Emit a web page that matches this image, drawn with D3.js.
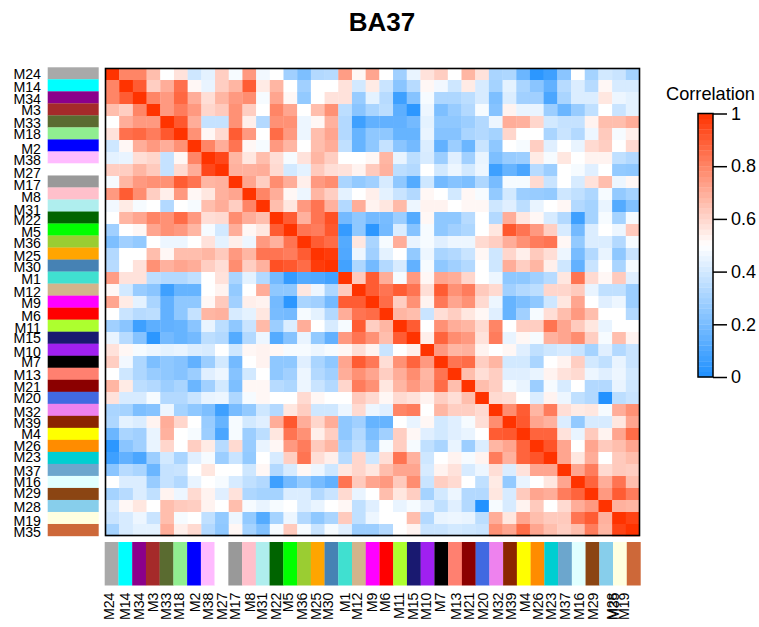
<!DOCTYPE html>
<html><head><meta charset="utf-8">
<script src="https://cdn.jsdelivr.net/npm/d3@7"></script>
<style>html,body{margin:0;padding:0;background:#fff}svg{display:block}text{font-family:"Liberation Sans",Arial,sans-serif;fill:#000}</style>
</head><body><svg id="c" width="759" height="627"></svg>
<script>
const modules = ["M24","M14","M34","M3","M33","M18","M2","M38","M27","M17","M8","M31","M22","M5","M36","M25","M30","M1","M12","M9","M6","M11","M15","M10","M7","M13","M21","M20","M32","M39","M4","M26","M23","M37","M16","M29","M28","M19","M35"];
const moduleColors = ["#A9A9A9","#00FFFF","#8B008B","#A52A2A","#5A6B30","#90EE90","#0000FF","#FFBBFF","#FFFFFF","#999999","#FFC0CB","#AFEEEE","#006400","#00FF00","#9ACD32","#FFA500","#4682B4","#40E0D0","#D2B48C","#FF00FF","#FF0000","#ADFF2F","#191970","#A020F0","#000000","#FF8070","#8B0000","#4169E1","#EE82EE","#8B2500","#FFFF00","#FF8C00","#00CED1","#6CA6CD","#E0FFFF","#8B4513","#87CEEB","#FFFFE0","#CD6839"];
// upper triangle of the symmetric correlation matrix, one list per module
const rM24=[1,.80,.80,.66,.50,.57,.39,.44,.62,.48,.75,.47,.50,.29,.21,.33,.34,.74,.52,.72,.50,.29,.45,.57,.62,.50,.68,.57,.31,.32,.17,.03,.07,.24,.50,.30,.40,.38,.30];
const rM14=[1,.90,.62,.70,.85,.52,.45,.62,.68,.90,.55,.68,.50,.29,.50,.50,.57,.40,.55,.38,.24,.34,.52,.47,.39,.55,.41,.30,.44,.31,.24,.15,.34,.42,.34,.52,.41,.41];
const rM34=[1,.80,.75,.87,.70,.58,.68,.75,.78,.48,.72,.52,.26,.50,.57,.57,.27,.44,.34,.07,.23,.48,.32,.32,.35,.41,.21,.42,.29,.29,.10,.31,.42,.42,.56,.46,.44];
const rM3=[1,.75,.82,.75,.60,.63,.77,.62,.50,.80,.72,.50,.66,.77,.35,.24,.31,.35,.14,.03,.46,.21,.27,.33,.48,.23,.53,.45,.45,.28,.17,.27,.36,.50,.38,.44];
const rM33=[1,.91,.70,.37,.37,.77,.54,.33,.77,.77,.46,.52,.69,.33,.07,.15,.15,.15,.19,.44,.25,.25,.28,.33,.46,.70,.69,.60,.40,.37,.37,.53,.66,.66,.70];
const rM18=[1,.77,.52,.59,.90,.75,.50,.86,.75,.46,.66,.72,.33,.16,.25,.25,.16,.16,.45,.23,.23,.31,.33,.30,.60,.50,.50,.31,.38,.33,.46,.63,.48,.54];
const rM2=[1,.80,.70,.84,.52,.48,.75,.68,.50,.66,.70,.36,.16,.25,.37,.24,.19,.42,.15,.28,.17,.38,.25,.50,.48,.62,.43,.50,.45,.59,.62,.50,.59];
const rM38=[1,.95,.68,.56,.66,.58,.48,.57,.68,.62,.50,.50,.52,.68,.45,.35,.41,.28,.43,.29,.45,.21,.27,.28,.55,.48,.56,.50,.53,.53,.36,.33];
const rM27=[1,.69,.69,.70,.59,.40,.44,.63,.58,.57,.53,.63,.69,.35,.33,.50,.40,.46,.40,.46,.07,.16,.10,.34,.28,.50,.48,.43,.50,.26,.25];
const rM17=[1,.72,.62,.78,.70,.54,.75,.78,.31,.26,.29,.41,.25,.12,.39,.19,.23,.21,.32,.20,.48,.48,.59,.38,.50,.41,.57,.66,.46,.52];
const rM8=[1,.80,.70,.52,.46,.68,.62,.44,.50,.54,.44,.38,.33,.52,.50,.40,.52,.48,.26,.40,.28,.27,.26,.39,.36,.32,.48,.26,.30];
const rM31=[1,.66,.56,.75,.84,.69,.33,.70,.53,.56,.67,.46,.53,.53,.50,.52,.52,.39,.43,.35,.45,.50,.52,.33,.30,.45,.12,.22];
const rM22=[1,.90,.69,.84,.93,.19,.25,.19,.20,.28,.12,.52,.25,.25,.34,.50,.33,.70,.56,.52,.41,.33,.07,.30,.48,.30,.48];
const rM5=[1,.84,.82,.91,.05,.25,.03,.19,.42,.23,.48,.25,.29,.32,.50,.56,.91,.84,.75,.62,.41,.19,.42,.50,.46,.63];
const rM36=[1,.90,.86,.12,.56,.31,.48,.70,.45,.48,.43,.46,.46,.59,.62,.70,.77,.82,.84,.52,.26,.42,.42,.33,.48];
const rM25=[1,.98,.11,.46,.29,.44,.50,.26,.46,.31,.33,.38,.52,.39,.60,.54,.63,.58,.46,.20,.33,.45,.25,.38];
const rM30=[1,.08,.32,.19,.33,.41,.15,.48,.25,.29,.33,.50,.39,.70,.62,.68,.54,.39,.15,.38,.50,.31,.48];
const rM1=[1,.63,.90,.70,.48,.75,.52,.72,.70,.60,.50,.46,.25,.25,.29,.34,.56,.84,.59,.52,.63,.43];
const rM12=[1,.90,.84,.90,.84,.58,.90,.77,.82,.63,.59,.29,.33,.35,.60,.60,.63,.45,.36,.36,.28];
const rM9=[1,.86,.62,.77,.53,.83,.72,.77,.59,.46,.16,.21,.25,.39,.56,.72,.50,.43,.46,.28];
const rM6=[1,.68,.66,.38,.58,.62,.56,.52,.43,.16,.29,.48,.58,.66,.75,.66,.50,.50,.33];
const rM11=[1,.90,.50,.77,.70,.68,.59,.80,.50,.62,.62,.84,.72,.63,.56,.45,.50,.50];
const rM15=[1,.54,.88,.78,.75,.57,.82,.45,.52,.48,.69,.72,.78,.62,.48,.66,.53];
const rM10=[1,.75,.68,.69,.53,.50,.52,.43,.36,.39,.41,.38,.30,.43,.33,.38];
const rM7=[1,.84,.86,.62,.68,.40,.40,.31,.50,.53,.62,.40,.36,.45,.38];
const rM13=[1,.66,.58,.62,.43,.43,.45,.53,.57,.59,.46,.43,.46,.40];
const rM21=[1,.66,.62,.48,.45,.28,.48,.41,.50,.33,.33,.45,.39];
const rM20=[1,.59,.58,.50,.42,.53,.46,.36,.33,.01,.35,.38];
const rM32=[1,.78,.90,.68,.82,.58,.55,.56,.48,.70,.77];
const rM39=[1,.91,.72,.69,.42,.26,.41,.41,.56,.72];
const rM4=[1,.88,.88,.57,.45,.63,.53,.72,.86];
const rM26=[1,.92,.72,.50,.72,.63,.66,.72];
const rM23=[1,.72,.56,.70,.50,.63,.66];
const rM37=[1,.72,.82,.59,.63,.62];
const rM16=[1,.88,.70,.84,.66];
const rM29=[1,.75,.90,.82];
const rM28=[1,.69,.68];
const rM19=[1,.96];
const rM35=[1];
const upper=[rM24,rM14,rM34,rM3,rM33,rM18,rM2,rM38,rM27,rM17,rM8,rM31,rM22,rM5,rM36,rM25,rM30,rM1,rM12,rM9,rM6,rM11,rM15,rM10,rM7,rM13,rM21,rM20,rM32,rM39,rM4,rM26,rM23,rM37,rM16,rM29,rM28,rM19,rM35];
const legendTicks=[0,0.2,0.4,0.6,0.8,1];
const chartTitle="BA37", legendTitle="Correlation";
// hand placement of the tick labels (the source spreads them unevenly)
const rowLabelCentre=[74,87,99,110,123,134,149,160,173,185,197,209.5,220,232,243,256,267,279,292,303,316,328,338,352,362,375,387,398,412,423,434,446,457,471,482,493,507,521,532];
const colLabelCentre=[109,125,139,153,166,179,195,208,222,235,250,262,276,288,302,316,328,345,357,372,385,399,413,426,440,456,469,483,498,511,525,538,551,565,579,593,612,623.5,614];

const cells=[];
upper.forEach((row,i)=>row.forEach((v,k)=>{const j=i+k;cells.push({i,j,v});if(i!==j)cells.push({i:j,j:i,v});}));
const svg=d3.select("#c");
const color=d3.scaleLinear().domain([0,0.5,1]).range(["#1E90FF","#FFFFFF","#FF3300"]);
const x=d3.scaleBand().domain(d3.range(modules.length)).range([105.5,639.5]);
const y=d3.scaleBand().domain(d3.range(modules.length)).range([68,536]);
const xStrip=d3.scaleBand().domain(d3.range(modules.length)).range([104.7,640.5]);
const yStrip=d3.scaleBand().domain(d3.range(modules.length)).range([67.3,536]);

svg.append("g").selectAll("rect").data(cells).join("rect")
 .attr("x",d=>x(d.j)).attr("y",d=>y(d.i)).attr("width",x.bandwidth()+.3).attr("height",y.bandwidth()+.3)
 .attr("fill",d=>color(d.v));
svg.append("rect").attr("x",105.5).attr("y",68.5).attr("width",534).attr("height",467).attr("fill","none").attr("stroke","#000").attr("stroke-width",1.6);

svg.append("g").selectAll("rect").data(moduleColors).join("rect")
 .attr("x",47.7).attr("width",51).attr("y",(d,i)=>yStrip(i)).attr("height",yStrip.bandwidth()+.2).attr("fill",d=>d);
svg.append("g").selectAll("rect").data(moduleColors).join("rect")
 .attr("x",(d,i)=>xStrip(i)).attr("width",xStrip.bandwidth()+.2).attr("y",542).attr("height",43.5).attr("fill",d=>d);

svg.append("g").selectAll("text").data(modules).join("text")
 .attr("x",41).attr("y",(d,i)=>rowLabelCentre[i]).attr("dy","0.36em").attr("text-anchor","end").attr("font-size",14.2).text(d=>d);
svg.append("g").selectAll("text").data(modules).join("text")
 .attr("transform",(d,i)=>`translate(${colLabelCentre[i]},592.5) rotate(-90)`).attr("dy","0.36em").attr("text-anchor","end").attr("font-size",14.2).text(d=>d);

svg.append("text").attr("x",382).attr("y",31).attr("text-anchor","middle").attr("font-size",26).attr("font-weight","bold").text(chartTitle);
svg.append("text").attr("x",710.5).attr("y",100).attr("text-anchor","middle").attr("font-size",18.2).text(legendTitle);

const leg=d3.scaleLinear().domain([0,1]).range([377,113.5]);
const stepsN=50, steps=d3.range(stepsN).map(k=>k/stepsN);
svg.append("g").selectAll("rect").data(steps).join("rect")
 .attr("x",698).attr("width",15).attr("y",d=>leg(d+1/stepsN)).attr("height",leg(0)-leg(1/stepsN)+.3)
 .attr("fill",d=>color(d+.5/stepsN));
svg.append("rect").attr("x",698).attr("y",113.5).attr("width",15).attr("height",263.5).attr("fill","none").attr("stroke","#000").attr("stroke-width",1.5);
const ax=svg.append("g").attr("transform","translate(713,0)").call(d3.axisRight(leg).tickValues(legendTicks).tickFormat(d3.format("~g")).tickSize(14).tickPadding(4));
ax.select(".domain").remove();
ax.selectAll("line").attr("stroke","#000").attr("stroke-width",1.5);
ax.selectAll("text").attr("font-size",18).style("font-family",'"Liberation Sans",Arial,sans-serif').attr("fill","#000");
</script></body></html>
